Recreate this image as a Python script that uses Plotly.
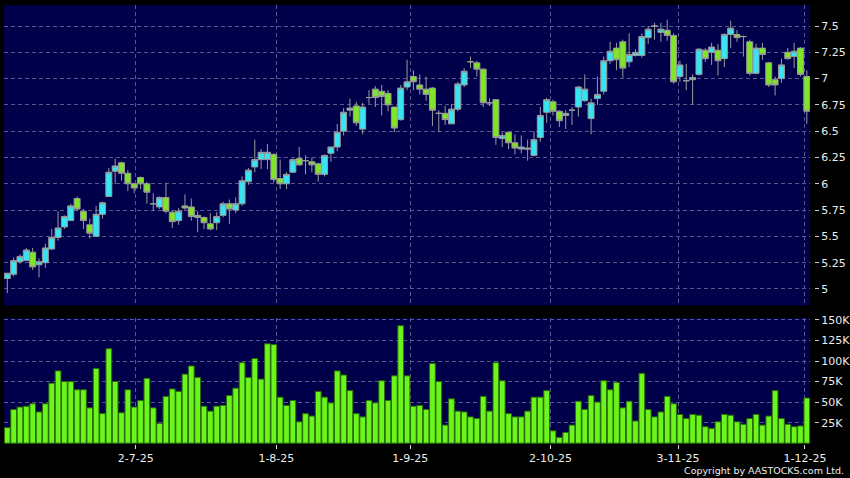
import plotly.graph_objects as go

# ---- data ----
open_ = [5.10, 5.14, 5.26, 5.27, 5.35, 5.23, 5.25, 5.38, 5.49, 5.59,
         5.65, 5.86, 5.74, 5.61, 5.50, 5.71, 5.88, 6.12, 6.20, 6.10,
         6.00, 6.06, 6.00, 5.81, 5.78, 5.87, 5.73, 5.65, 5.79, 5.78,
         5.70, 5.68, 5.62, 5.63, 5.70, 5.81, 5.75, 5.81, 6.02, 6.16,
         6.23, 6.23, 6.28, 6.05, 6.00, 6.11, 6.24, 6.22, 6.21, 6.19,
         6.09, 6.29, 6.35, 6.50, 6.70, 6.74, 6.52, 6.82, 6.90, 6.88,
         6.86, 6.73, 6.61, 6.92, 7.02, 6.94, 6.90, 6.91, 6.67, 6.67,
         6.57, 6.71, 6.94, 7.16, 7.15, 7.09, 6.77, 6.80, 6.43, 6.49,
         6.39, 6.33, 6.34, 6.27, 6.44, 6.68, 6.78, 6.69, 6.65, 6.70,
         6.73, 6.79, 6.62, 6.81, 6.88, 7.17, 7.29, 7.35, 7.16, 7.22,
         7.22, 7.39, 7.50, 7.44, 7.46, 7.41, 7.02, 6.98, 6.99, 7.04,
         7.27, 7.25, 7.27, 7.19, 7.42, 7.42, 7.40, 7.35, 7.05, 7.29,
         7.15, 6.99, 7.00, 7.25, 7.21, 7.29, 7.02]
high = [5.15, 5.30, 5.33, 5.39, 5.39, 5.29, 5.43, 5.57, 5.74, 5.70,
        5.81, 5.88, 5.76, 5.67, 5.79, 5.83, 6.15, 6.24, 6.21, 6.13,
        6.01, 6.07, 6.02, 5.91, 5.88, 6.01, 5.75, 5.77, 5.90, 5.86,
        5.74, 5.69, 5.72, 5.73, 5.83, 5.85, 5.87, 6.07, 6.15, 6.42,
        6.33, 6.38, 6.29, 6.23, 6.11, 6.24, 6.35, 6.27, 6.25, 6.20,
        6.28, 6.35, 6.57, 6.72, 6.81, 6.78, 6.77, 6.89, 6.93, 6.94,
        6.89, 6.73, 6.94, 7.18, 7.08, 7.04, 7.02, 6.92, 6.70, 6.74,
        6.76, 6.97, 7.10, 7.21, 7.17, 7.10, 6.81, 6.80, 6.49, 6.49,
        6.47, 6.46, 6.42, 6.50, 6.73, 6.82, 6.80, 6.70, 6.70, 6.73,
        6.93, 7.04, 6.81, 7.02, 7.21, 7.35, 7.34, 7.37, 7.43, 7.28,
        7.43, 7.50, 7.53, 7.53, 7.56, 7.43, 7.17, 7.14, 7.04, 7.29,
        7.29, 7.34, 7.33, 7.43, 7.55, 7.46, 7.41, 7.37, 7.33, 7.34,
        7.16, 7.02, 7.19, 7.29, 7.34, 7.30, 7.08]
low = [4.96, 5.12, 5.24, 5.27, 5.18, 5.11, 5.20, 5.37, 5.46, 5.57,
       5.65, 5.74, 5.57, 5.48, 5.50, 5.67, 5.88, 6.00, 6.03, 5.93,
       5.91, 5.95, 5.81, 5.74, 5.76, 5.72, 5.58, 5.61, 5.74, 5.65,
       5.54, 5.57, 5.56, 5.56, 5.68, 5.62, 5.72, 5.79, 5.99, 6.11,
       6.14, 6.14, 6.01, 5.95, 5.95, 6.10, 6.17, 6.09, 6.11, 6.02,
       6.07, 6.21, 6.31, 6.46, 6.64, 6.55, 6.47, 6.76, 6.73, 6.65,
       6.69, 6.49, 6.60, 6.89, 6.89, 6.85, 6.79, 6.55, 6.49, 6.56,
       6.57, 6.69, 6.92, 7.10, 7.02, 6.73, 6.74, 6.37, 6.35, 6.33,
       6.28, 6.29, 6.22, 6.26, 6.40, 6.58, 6.65, 6.54, 6.52, 6.56,
       6.64, 6.78, 6.47, 6.75, 6.85, 7.14, 7.08, 7.01, 7.11, 7.21,
       7.20, 7.33, 7.37, 7.35, 7.36, 6.95, 6.97, 6.89, 6.75, 7.03,
       7.16, 7.13, 7.03, 7.11, 7.29, 7.35, 7.21, 7.03, 7.04, 7.18,
       6.92, 6.84, 6.96, 7.18, 7.10, 7.02, 6.57]
close = [5.15, 5.27, 5.31, 5.37, 5.21, 5.26, 5.39, 5.49, 5.58, 5.69,
         5.79, 5.76, 5.65, 5.53, 5.71, 5.82, 6.11, 6.17, 6.10, 6.00,
         5.96, 6.00, 5.92, 5.81, 5.87, 5.74, 5.64, 5.74, 5.77, 5.69,
         5.68, 5.63, 5.57, 5.69, 5.81, 5.76, 5.81, 6.03, 6.13, 6.23,
         6.30, 6.30, 6.04, 6.00, 6.09, 6.23, 6.18, 6.22, 6.18, 6.09,
         6.27, 6.35, 6.49, 6.68, 6.72, 6.58, 6.73, 6.82, 6.82, 6.83,
         6.75, 6.53, 6.91, 6.97, 6.97, 6.90, 6.85, 6.70, 6.67, 6.61,
         6.71, 6.95, 7.07, 7.16, 7.09, 6.77, 6.77, 6.44, 6.46, 6.39,
         6.34, 6.35, 6.33, 6.42, 6.65, 6.80, 6.69, 6.60, 6.67, 6.70,
         6.92, 6.90, 6.77, 6.85, 7.17, 7.26, 7.18, 7.10, 7.23, 7.25,
         7.40, 7.47, 7.50, 7.47, 7.41, 6.97, 7.13, 6.98, 7.01, 7.28,
         7.19, 7.30, 7.17, 7.42, 7.48, 7.39, 7.40, 7.05, 7.29, 7.23,
         6.94, 6.94, 7.13, 7.19, 7.26, 7.04, 6.69]
volume_k = [19, 41, 44, 45, 48, 38, 48, 73, 88, 75,
            75, 65, 65, 43, 91, 36, 115, 75, 37, 65,
            44, 52, 79, 43, 24, 57, 66, 63, 84, 94,
            80, 45, 39, 45, 46, 58, 67, 98, 80, 103,
            78, 121, 120, 56, 46, 52, 26, 36, 33, 63,
            56, 49, 88, 83, 64, 36, 32, 52, 49, 76,
            52, 82, 143, 82, 45, 46, 41, 97, 75, 22,
            54, 39, 38, 32, 30, 57, 39, 98, 76, 36,
            32, 32, 39, 56, 56, 64, 15, 7, 13, 22,
            51, 41, 58, 50, 76, 65, 74, 43, 51, 27,
            85, 41, 32, 38, 57, 48, 35, 30, 35, 34,
            20, 18, 26, 35, 34, 26, 23, 30, 35, 22,
            33, 64, 30, 23, 20, 21, 55]

date_tick_labels = ["2-7-25", "1-8-25", "1-9-25", "2-10-25", "3-11-25", "1-12-25"]
date_tick_pos = [20.25, 42.4, 63.5, 85.6, 105.7, 125.7]
price_ticks = [5, 5.25, 5.5, 5.75, 6, 6.25, 6.5, 6.75, 7, 7.25, 7.5]
vol_ticks_k = [25, 50, 75, 100, 125, 150]

idx = list(range(len(close)))
volume = [v * 1000 for v in volume_k]

# ---- styling ----
NAVY = "#00004a"
GRID = "#58588a"
TXT = "#ececec"
FONT = "DejaVu Sans"

fig = go.Figure()
fig.add_trace(go.Candlestick(
    x=idx, open=open_, high=high, low=low, close=close,
    increasing=dict(fillcolor="#36e4f2", line=dict(color="#9a9a9a", width=1)),
    decreasing=dict(fillcolor="#7fe526", line=dict(color="#9a9a9a", width=1)),
    whiskerwidth=0, hoverinfo="skip", xaxis="x", yaxis="y", showlegend=False,
))
fig.add_trace(go.Bar(
    x=idx, y=volume, width=0.9,
    marker=dict(color="#6cf51c", line=dict(color="#2a6e08", width=1)),
    hoverinfo="skip", xaxis="x2", yaxis="y2", showlegend=False,
))

xdom = [0, 0.99506]
xrange_ = [-0.52, 126.5]
common_x = dict(domain=xdom, range=xrange_, showgrid=True, gridcolor=GRID,
                griddash="4px,3px", gridwidth=1, zeroline=False, showline=False,
                tickvals=date_tick_pos, fixedrange=True)

fig.update_layout(
    width=850, height=478,
    paper_bgcolor="black", plot_bgcolor=NAVY,
    margin=dict(l=4, r=36, t=5, b=34, autoexpand=False),
    boxgap=0.06, boxgroupgap=0,
    font=dict(family=FONT, size=11, color=TXT),
    xaxis=dict(anchor="y", showticklabels=False, ticks="",
               rangeslider=dict(visible=False), **common_x),
    xaxis2=dict(anchor="y2", ticktext=date_tick_labels, showticklabels=True,
                ticks="outside", ticklen=4, tickcolor="#dddddd",
                tickfont=dict(family=FONT, size=11, color=TXT), **common_x),
    yaxis=dict(domain=[0.3155, 1], range=[4.843, 7.70], side="right",
               anchor="free", position=1, tickvals=price_ticks,
               ticktext=[f"{v:g}" for v in price_ticks],
               ticks="outside", ticklen=4, tickcolor="#cccccc",
               showgrid=True, gridcolor=GRID, griddash="4px,3px", gridwidth=1,
               zeroline=False, showline=False, fixedrange=True,
               tickfont=dict(family=FONT, size=11, color=TXT)),
    yaxis2=dict(domain=[0, 0.287], range=[-1000, 152400], side="right",
                anchor="free", position=1,
                tickvals=[v * 1000 for v in vol_ticks_k],
                ticktext=[f"{v}K" for v in vol_ticks_k],
                ticks="outside", ticklen=4, tickcolor="#cccccc",
                showgrid=True, gridcolor=GRID, griddash="4px,3px", gridwidth=1,
                zeroline=False, showline=False, fixedrange=True,
                tickfont=dict(family=FONT, size=11, color=TXT)),
    bargap=0.1,
    annotations=[dict(text="Copyright by AASTOCKS.com Ltd.", xref="paper", yref="paper",
                      x=1.0395, y=-0.0615, xanchor="right", yanchor="middle",
                      showarrow=False, font=dict(family=FONT, size=9.5, color=TXT))],
)

fig.write_html(
    "out.html",
    config={"displayModeBar": False, "staticPlot": True},
    post_script="document.body.style.margin='0px';document.body.style.background='black';"
                "document.body.style.overflow='hidden';",
)
